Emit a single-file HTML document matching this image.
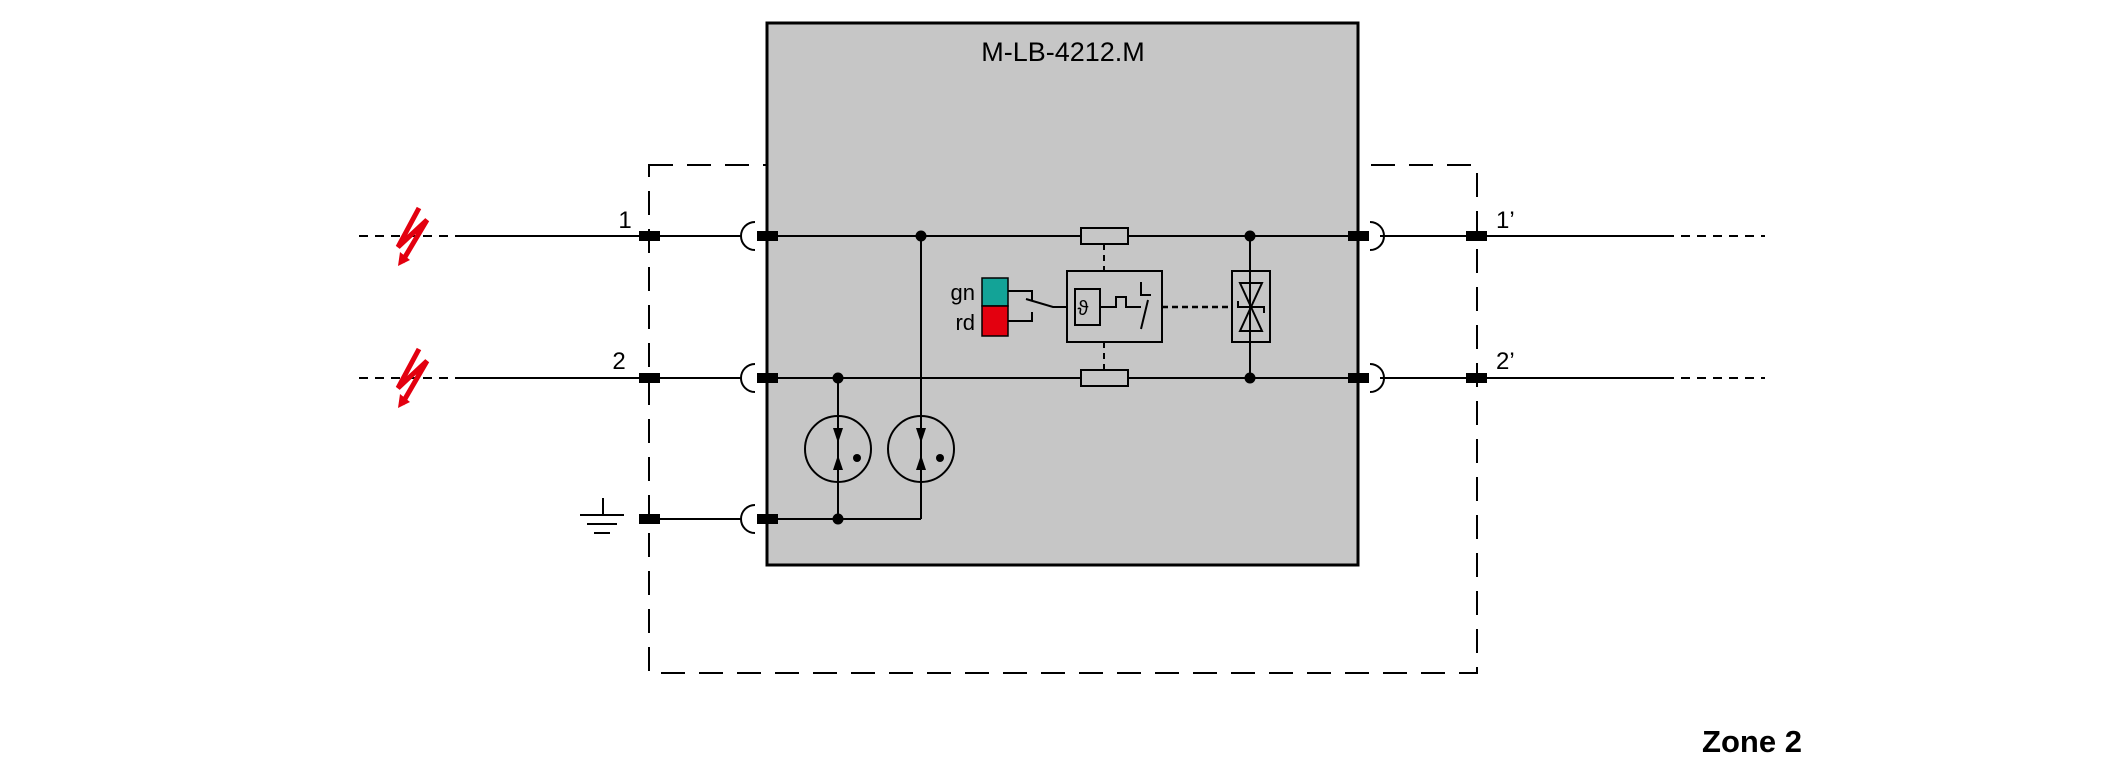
<!DOCTYPE html>
<html><head><meta charset="utf-8"><style>
html,body{margin:0;padding:0;background:#fff;}
svg{display:block;}
text{font-family:"Liberation Sans",sans-serif;}
</style></head><body>
<svg width="2126" height="780" viewBox="0 0 2126 780" xmlns="http://www.w3.org/2000/svg">
<!-- dashed zone box -->
<rect x="649" y="165" width="828" height="508" fill="none" stroke="#000" stroke-width="2" stroke-dasharray="24,14"/>
<!-- gray module -->
<rect x="767" y="23" width="591" height="542" fill="#c6c6c6" stroke="#000" stroke-width="3"/>
<text x="1063" y="61" font-size="27" text-anchor="middle">M-LB-4212.M</text>

<g stroke="#000" stroke-width="2" fill="none">
<!-- left dashed lines -->
<line x1="359" y1="236" x2="461" y2="236" stroke-dasharray="9,7"/>
<line x1="359" y1="378" x2="461" y2="378" stroke-dasharray="9,7"/>
<!-- solid lines -->
<line x1="461" y1="236" x2="742" y2="236"/>
<line x1="461" y1="378" x2="742" y2="378"/>
<line x1="660" y1="519" x2="742" y2="519"/>
<line x1="767" y1="236" x2="1358" y2="236"/>
<line x1="767" y1="378" x2="1358" y2="378"/>
<line x1="767" y1="519" x2="921" y2="519"/>
<line x1="1380" y1="236" x2="1665" y2="236"/>
<line x1="1380" y1="378" x2="1665" y2="378"/>
<line x1="1665" y1="236" x2="1765" y2="236" stroke-dasharray="9,7"/>
<line x1="1665" y1="378" x2="1765" y2="378" stroke-dasharray="9,7"/>
<!-- brackets -->
<path d="M755,222 A14,14 0 0 0 755,250"/>
<path d="M755,364 A14,14 0 0 0 755,392"/>
<path d="M755,505 A14,14 0 0 0 755,533"/>
<path d="M1370,222 A14,14 0 0 1 1370,250"/>
<path d="M1370,364 A14,14 0 0 1 1370,392"/>
<!-- ground symbol -->
<line x1="603" y1="498" x2="603" y2="515"/>
<line x1="580" y1="515" x2="624" y2="515"/>
<line x1="587" y1="524" x2="617" y2="524"/>
<line x1="594" y1="533" x2="610" y2="533"/>
<!-- verticals -->
<line x1="921" y1="236" x2="921" y2="519"/>
<line x1="838" y1="378" x2="838" y2="519"/>
<line x1="1250" y1="236" x2="1250" y2="378"/>
<!-- gas tubes -->
<circle cx="838" cy="449" r="33"/>
<circle cx="921" cy="449" r="33"/>
<!-- resistors -->
<rect x="1081" y="228" width="47" height="16" fill="#c6c6c6"/>
<rect x="1081" y="370" width="47" height="16" fill="#c6c6c6"/>
<line x1="1104" y1="244" x2="1104" y2="271" stroke-dasharray="6,5"/>
<line x1="1104" y1="342" x2="1104" y2="370" stroke-dasharray="6,5"/>
<!-- relay box -->
<rect x="1067" y="271" width="95" height="71"/>
<rect x="1075" y="289" width="25" height="36"/>
<path d="M1100,307 H1116 V297 H1126 V307 H1141"/>
<path d="M1141,329 L1148,300 M1141,282 V295 H1151"/>
<line x1="1162" y1="307" x2="1232" y2="307" stroke-dasharray="6,4" stroke-width="2.5"/>
<!-- led wiring -->
<path d="M1008,291 H1032 V301 M1026,299 L1053,307 H1067"/>
<path d="M1008,321 H1032 V312"/>
<!-- TVS -->
<rect x="1232" y="271" width="38" height="71"/>
<path d="M1240,283 H1262 L1251,307 Z M1240,331 H1262 L1251,307 Z"/>
<path d="M1238,301 V307 H1264 V313"/>
</g>
<text x="1083" y="315" font-size="20" text-anchor="middle">ϑ</text>
<!-- gas tube arrows -->
<g fill="#000">
<path d="M833,428 L843,428 L838,443 Z"/><path d="M833,470 L843,470 L838,455 Z"/>
<circle cx="857" cy="458" r="4"/>
<path d="M916,428 L926,428 L921,443 Z"/><path d="M916,470 L926,470 L921,455 Z"/>
<circle cx="940" cy="458" r="4"/>
<circle cx="921" cy="236" r="5.5"/>
<circle cx="838" cy="378" r="5.5"/>
<circle cx="838" cy="519" r="5.5"/>
<circle cx="1250" cy="236" r="5.5"/>
<circle cx="1250" cy="378" r="5.5"/>
<!-- terminals -->
<rect x="639" y="231" width="21" height="10"/>
<rect x="639" y="373" width="21" height="10"/>
<rect x="639" y="514" width="21" height="10"/>
<rect x="757" y="231" width="21" height="10"/>
<rect x="757" y="373" width="21" height="10"/>
<rect x="757" y="514" width="21" height="10"/>
<rect x="1348" y="231" width="21" height="10"/>
<rect x="1348" y="373" width="21" height="10"/>
<rect x="1466" y="231" width="21" height="10"/>
<rect x="1466" y="373" width="21" height="10"/>
</g>
<!-- LEDs -->
<rect x="982" y="278" width="26" height="28" fill="#13a397" stroke="#000" stroke-width="1.5"/>
<rect x="982" y="306" width="26" height="30" fill="#e3000f" stroke="#000" stroke-width="1.5"/>
<text x="975" y="300" font-size="22" text-anchor="end">gn</text>
<text x="975" y="330" font-size="22" text-anchor="end">rd</text>
<!-- labels -->
<text x="625" y="228" font-size="24" text-anchor="middle">1</text>
<text x="619" y="369" font-size="24" text-anchor="middle">2</text>
<text x="1496" y="228" font-size="24">1’</text>
<text x="1496" y="369" font-size="24">2’</text>
<text x="1752" y="752" font-size="31" font-weight="bold" text-anchor="middle">Zone 2</text>
<!-- lightning -->
<g fill="none" stroke="#e3000f" stroke-width="5" stroke-linejoin="miter">
<path d="M419,208 L398,247 L427,220 L402,262"/>
<path d="M419,349 L398,388 L427,361 L402,404"/>
</g>
<g fill="#e3000f">
<path d="M398,266 L400,252 L410,260 Z"/>
<path d="M398,408 L400,394 L410,402 Z"/>
</g>
</svg>
</body></html>
